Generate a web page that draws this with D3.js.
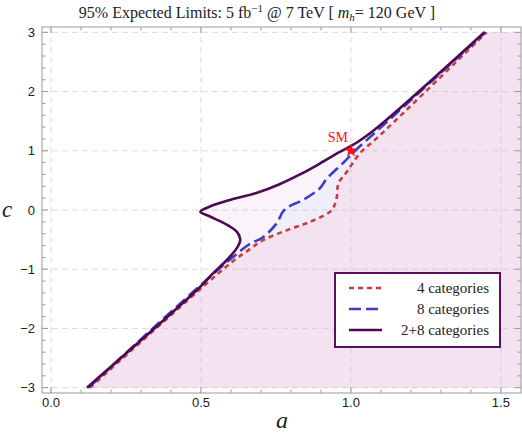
<!DOCTYPE html>
<html><head><meta charset="utf-8">
<script src="https://cdn.jsdelivr.net/npm/d3@7"></script>
<style>body{margin:0;background:#fff}svg{display:block}</style>
</head><body>
<script>
// ---- data (a, c) ----
const curve28 = [[0.12,-3.0],[0.497,-1.3],[0.54,-1.07],[0.587,-0.84],[0.62,-0.64],[0.631,-0.5],[0.62,-0.37],[0.587,-0.25],[0.53,-0.11],[0.498,-0.03],[0.53,0.06],[0.597,0.17],[0.687,0.29],[0.76,0.43],[0.83,0.6],[0.895,0.78],[0.955,0.96],[1.02,1.14],[1.09,1.4],[1.445,3.0]];
const curve8 = [[0.125,-3.0],[0.655,-0.6],[0.707,-0.46],[0.753,-0.22],[0.773,-0.03],[0.79,0.05],[0.84,0.17],[0.897,0.37],[0.918,0.52],[0.975,0.8],[1.02,1.03],[1.09,1.35],[1.448,3.0]];
const curve4 = [[0.13,-3.0],[0.6,-0.89],[0.652,-0.7],[0.707,-0.51],[0.787,-0.34],[0.863,-0.2],[0.93,-0.03],[0.945,0.08],[0.953,0.22],[0.955,0.37],[0.96,0.47],[0.987,0.65],[1.03,0.96],[1.09,1.23],[1.452,3.0]];
const xMajor = [0, 0.5, 1.0, 1.5];
const xTickLabels = ["0.0","0.5","1.0","1.5"];
const yMajor = [-3,-2,-1,0,1,2,3];
const yTickLabels = ["\u22123","\u22122","\u22121","0","1","2","3"];
const legendLabels = ["4 categories","8 categories","2+8 categories"];
const smPoint = [1.0, 1.0];

const W=522,H=444;
const L=42,R=521,T=27,B=393;
const x=d3.scaleLinear().domain([-0.03,1.567]).range([L,R]);
const y=d3.scaleLinear().domain([-3.09,3.09]).range([B,T]);

const svg=d3.select("body").append("svg").attr("width",W).attr("height",H);
svg.append("defs").append("clipPath").attr("id","clip").append("rect")
  .attr("x",L).attr("y",T).attr("width",R-L).attr("height",B-T);

const g=svg.append("g").attr("clip-path","url(#clip)");
const lc = d3.line().x(d=>x(d[0])).y(d=>y(d[1])).curve(d3.curveCatmullRom.alpha(0.5));
function region(pts){
  return lc(pts) + "L" + x(1.7) + "," + y(3) + "L" + x(1.7) + "," + y(-3) + "Z";
}
g.append("path").attr("d",region(curve28)).attr("fill","#faf3fa");
g.append("path").attr("d",region(curve8)).attr("fill","#efeefa");
g.append("path").attr("d",region(curve4)).attr("fill","#f3e3f0");

// grid lines
const grid=g.append("g").attr("stroke","#bdbdbd").attr("stroke-opacity",0.55).attr("stroke-dasharray","6,4").attr("stroke-width",1);
xMajor.forEach(v=>grid.append("line").attr("x1",x(v)).attr("x2",x(v)).attr("y1",T).attr("y2",B));
yMajor.forEach(v=>grid.append("line").attr("x1",L).attr("x2",R).attr("y1",y(v)).attr("y2",y(v)));

// curves
g.append("path").attr("d",lc(curve4)).attr("fill","none").attr("stroke","#d03a3a").attr("stroke-width",2.6).attr("stroke-dasharray","5,4");
g.append("path").attr("d",lc(curve8)).attr("fill","none").attr("stroke","#3b3fc4").attr("stroke-width",2.6).attr("stroke-dasharray","12,5");
g.append("path").attr("d",lc(curve28)).attr("fill","none").attr("stroke","#4c0a55").attr("stroke-width",2.6);

const sans="'Liberation Sans', Arial, Helvetica, sans-serif";
const serif="'Liberation Serif', 'Times New Roman', Times, serif";

// SM star
svg.append("path").attr("d",d3.symbol().type(d3.symbolStar).size(55)())
  .attr("transform",`translate(${x(smPoint[0])},${y(smPoint[1])})`).attr("fill","#ff1010");
svg.append("text").attr("x",x(smPoint[0])-13).attr("y",y(smPoint[1])-9)
  .attr("text-anchor","middle").style("font-family",serif)
  .attr("font-size",14).attr("fill","#ff1010").text("SM");

// frame
svg.append("rect").attr("x",L).attr("y",T).attr("width",R-L).attr("height",B-T)
  .attr("fill","none").attr("stroke","#9a9a9a").attr("stroke-width",1);

// ticks
const tk=svg.append("g").attr("stroke","#9a9a9a").attr("stroke-width",1);
const xMinor=d3.range(0,16).map(i=>i/10);
xMinor.forEach(v=>{
  const maj = Math.abs(v*2-Math.round(v*2))<1e-6;
  const len = maj?6:3.5;
  tk.append("line").attr("x1",x(v)).attr("x2",x(v)).attr("y1",B).attr("y2",B-len);
  tk.append("line").attr("x1",x(v)).attr("x2",x(v)).attr("y1",T).attr("y2",T+len);
});
const yMinor=d3.range(-15,16).map(i=>i/5);
yMinor.forEach(v=>{
  const maj = Math.abs(v-Math.round(v))<1e-6;
  const len = maj?6:3.5;
  tk.append("line").attr("x1",L).attr("x2",L+len).attr("y1",y(v)).attr("y2",y(v));
  tk.append("line").attr("x1",R).attr("x2",R-len).attr("y1",y(v)).attr("y2",y(v));
});

xMajor.forEach((v,i)=>svg.append("text").attr("x",x(v)).attr("y",407)
  .attr("text-anchor","middle").style("font-family",sans).attr("font-size",13).attr("fill","#222").text(xTickLabels[i]));
yMajor.forEach((v,i)=>svg.append("text").attr("x",35).attr("y",y(v)+4.5)
  .attr("text-anchor","end").style("font-family",sans).attr("font-size",13).attr("fill","#222").text(yTickLabels[i]));

// axis labels
svg.append("text").attr("x",282).attr("y",428).attr("text-anchor","middle")
  .style("font-family",serif).attr("font-style","italic").attr("font-size",24).attr("fill","#222").text("a");
svg.append("text").attr("x",7).attr("y",217).attr("text-anchor","middle")
  .style("font-family",serif).attr("font-style","italic").attr("font-size",23).attr("fill","#222").text("c");

// title
const tt=svg.append("text").attr("x",257).attr("y",18).attr("text-anchor","middle")
  .style("font-family",serif).attr("font-size",16).attr("fill","#222");
tt.append("tspan").text("95% Expected Limits: 5 fb");
tt.append("tspan").attr("font-size",11).attr("dy",-6).text("\u22121");
tt.append("tspan").attr("dy",6).text(" @ 7 TeV [ ");
tt.append("tspan").attr("font-style","italic").text("m");
tt.append("tspan").attr("font-style","italic").attr("font-size",11).attr("dy",3).text("h");
tt.append("tspan").attr("dy",-3).text("= 120 GeV ]");

// legend
const lg=svg.append("g");
lg.append("rect").attr("x",335).attr("y",273).attr("width",165).attr("height",74)
  .attr("fill","#fff").attr("stroke","#5a0f60").attr("stroke-width",2);
const legStyles=[{c:"#d03a3a",d:"5,4"},{c:"#3b3fc4",d:"12,5"},{c:"#4c0a55",d:null}];
legendLabels.forEach((t,i)=>{
  const yy=288+i*21;
  const ln=lg.append("line").attr("x1",349).attr("x2",382).attr("y1",yy).attr("y2",yy)
    .attr("stroke",legStyles[i].c).attr("stroke-width",2.6);
  if(legStyles[i].d) ln.attr("stroke-dasharray",legStyles[i].d);
  lg.append("text").attr("x",489).attr("y",yy+5).attr("text-anchor","end")
    .style("font-family",serif).attr("font-size",15).attr("fill","#222").text(t);
});
</script>
</body></html>
